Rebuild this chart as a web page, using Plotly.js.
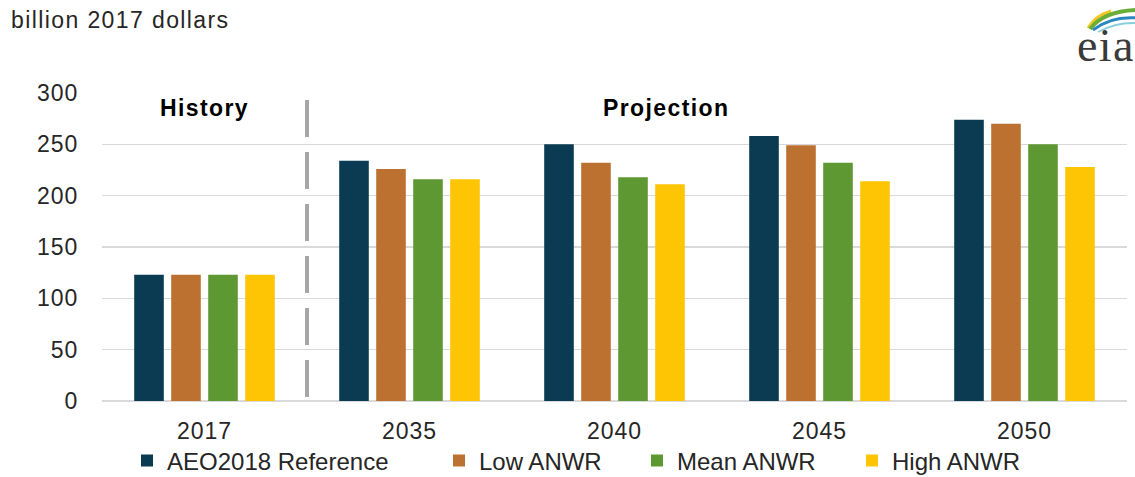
<!DOCTYPE html>
<html>
<head>
<meta charset="utf-8">
<script src="https://cdn.plot.ly/plotly-3.0.1.min.js"></script>
<style>
html,body{margin:0;padding:0;background:#fff;}
#chart{width:1135px;height:477px;}
.annotation-text{letter-spacing:1.4px;}
#chart .xtick text{letter-spacing:1px;}
#chart .ytick text{letter-spacing:1px;}
</style>
</head>
<body>
<div id="chart"></div>
<script>
// ---- data ----
var categories = ["2017", "2035", "2040", "2045", "2050"];
var seriesNames = ["AEO2018 Reference", "Low ANWR", "Mean ANWR", "High ANWR"];
var reference = [123, 234, 250, 258, 274];
var lowANWR   = [123, 226, 232, 249, 270];
var meanANWR  = [123, 216, 218, 232, 250];
var highANWR  = [123, 216, 211, 214, 228];
var yTicks = [0, 50, 100, 150, 200, 250, 300];
var unitLabel = "billion 2017 dollars";
var periodLabels = ["History", "Projection"];

// ---- styling ----
var colors = ["#0B3A53", "#BC7130", "#5E9833", "#FDC504"];
var legendIds = ["legend", "legend2", "legend3", "legend4"];
var legendLeftPx = [127, 439, 637, 852];
var W = 1135, H = 477;
var M = {l: 102, r: 8, t: 93, b: 76, autoexpand: false};
var PW = W - M.l - M.r, PH = H - M.t - M.b;
function px(x) { return (x - M.l) / PW; }
function py(y) { return (H - M.b - y) / PH; }

var allSeries = [reference, lowANWR, meanANWR, highANWR];
var traces = allSeries.map(function (vals, i) {
  return {
    type: "bar",
    name: seriesNames[i],
    legend: legendIds[i],
    x: categories,
    y: vals,
    marker: {color: colors[i], line: {width: 0}},
    hoverinfo: "x+y+name"
  };
});

var font = "Liberation Sans, Arial, sans-serif";

function arc(x0, y0, cx, cy, x1, y1) {
  return "M" + px(x0) + "," + py(y0) + " Q" + px(cx) + "," + py(cy) + " " + px(x1) + "," + py(y1);
}

var layout = {
  width: W, height: H,
  margin: M,
  paper_bgcolor: "#fff",
  plot_bgcolor: "#fff",
  barmode: "group",
  bargap: 0.278,
  bargroupgap: 0.2,
  showlegend: true,
  xaxis: {
    type: "category",
    showgrid: false,
    showline: false,
    zeroline: false,
    ticks: "outside",
    ticklen: 9,
    tickcolor: "rgba(0,0,0,0)",
    tickfont: {family: font, size: 23, color: "#262626"}
  },
  yaxis: {
    range: [0, 300],
    tickvals: yTicks,
    ticktext: yTicks.map(String),
    showgrid: true,
    gridcolor: "#D9D9D9",
    gridwidth: 1.5,
    zeroline: true,
    zerolinecolor: "#D9D9D9",
    zerolinewidth: 1.5,
    showline: false,
    ticks: "outside",
    ticklen: 18,
    tickcolor: "rgba(0,0,0,0)",
    tickfont: {family: font, size: 23, color: "#262626"},
    fixedrange: true
  },
  shapes: [
    {type: "line", xref: "x", yref: "paper", x0: 0.5, x1: 0.5, y0: py(100), y1: 0,
     line: {color: "#A6A6A6", width: 4, dash: "37px,15px"}, layer: "above"},
    {type: "path", xref: "paper", yref: "paper", path: arc(1088, 28, 1095, 16, 1111, 11),
     line: {color: "#F3C623", width: 3}},
    {type: "path", xref: "paper", yref: "paper", path: arc(1090, 29, 1104, 11, 1137, 10),
     line: {color: "#6AAE3A", width: 4}},
    {type: "path", xref: "paper", yref: "paper", path: arc(1093, 30, 1111, 16, 1137, 18),
     line: {color: "#2C86C0", width: 3}},
    {type: "path", xref: "paper", yref: "paper", path: arc(1098, 32, 1116, 22, 1137, 23),
     line: {color: "#8ACFDC", width: 2}}
  ],
  annotations: [
    {text: unitLabel, xref: "paper", yref: "paper", x: px(9), y: py(20),
     xanchor: "left", yanchor: "middle", showarrow: false,
     font: {family: font, size: 23, color: "#262626"}},
    {text: "<b>" + periodLabels[0] + "</b>", xref: "x", yref: "paper", x: 0, y: py(108),
     xanchor: "center", yanchor: "middle", showarrow: false,
     font: {family: font, size: 23, color: "#000"}},
    {text: "<b>" + periodLabels[1] + "</b>", xref: "paper", yref: "paper", x: px(666), y: py(108),
     xanchor: "center", yanchor: "middle", showarrow: false,
     font: {family: font, size: 23, color: "#000"}},
    {text: "eia", xref: "paper", yref: "paper", x: px(1075), y: py(46),
     xanchor: "left", yanchor: "middle", showarrow: false,
     font: {family: "Liberation Serif, Times New Roman, serif", size: 46, color: "#3A3A3A"}}
  ]
};

legendIds.forEach(function (id, i) {
  layout[id] = {
    orientation: "h",
    x: px(legendLeftPx[i]), xanchor: "left",
    y: py(461), yanchor: "middle",
    font: {family: font, size: 24, color: "#262626"},
    itemwidth: 30,
    bgcolor: "rgba(0,0,0,0)"
  };
});

Plotly.newPlot("chart", traces, layout, {displayModeBar: false, staticPlot: true});
</script>
</body>
</html>
